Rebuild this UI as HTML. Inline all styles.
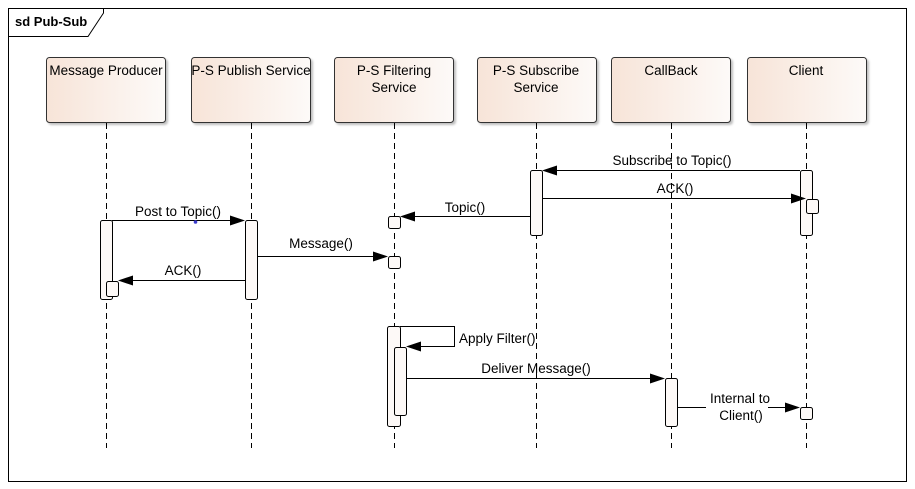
<!DOCTYPE html>
<html><head><meta charset="utf-8"><style>
html,body{margin:0;padding:0;background:#fff;}
svg{display:block;}
text{font-family:"Liberation Sans",sans-serif;font-size:13.5px;fill:#000;}
</style></head><body>
<svg width="915" height="489" viewBox="0 0 915 489" xmlns="http://www.w3.org/2000/svg">
<defs>
<linearGradient id="g" x1="0" x2="1" y1="0" y2="0">
<stop offset="0" stop-color="#f7e4d8"/><stop offset="1" stop-color="#fdfaf8"/>
</linearGradient>
<filter id="sh" x="-10%" y="-10%" width="130%" height="130%"><feDropShadow dx="2" dy="2" stdDeviation="1" flood-color="#000" flood-opacity="0.25"/></filter>
</defs>
<rect x="8.5" y="8.5" width="898" height="473" fill="#fff" stroke="#000" stroke-width="1"/>
<path d="M8.5 36.5 H88 L103.5 13 V8.5" fill="none" stroke="#000"/>
<text x="15" y="26" style="font-weight:bold;font-size:13px">sd Pub-Sub</text>

<g stroke="#000" stroke-dasharray="6,4" stroke-width="1">
<line x1="106.5" y1="123" x2="106.5" y2="448"/>
<line x1="251.5" y1="123" x2="251.5" y2="448"/>
<line x1="394.5" y1="123" x2="394.5" y2="448"/>
<line x1="536.5" y1="123" x2="536.5" y2="448"/>
<line x1="671.5" y1="123" x2="671.5" y2="448"/>
<line x1="806.5" y1="123" x2="806.5" y2="448"/>
</g>

<g fill="url(#g)" stroke="#333" filter="url(#sh)">
<rect x="46.5" y="57.5" width="119" height="65" rx="3"/>
<rect x="191.5" y="57.5" width="119" height="65" rx="3"/>
<rect x="334.5" y="57.5" width="119" height="65" rx="3"/>
<rect x="477.5" y="57.5" width="119" height="65" rx="3"/>
<rect x="611.5" y="57.5" width="119" height="65" rx="3"/>
<rect x="747.5" y="57.5" width="119" height="65" rx="3"/>
</g>
<g text-anchor="middle">
<text x="106" y="75">Message Producer</text>
<text x="251" y="75">P-S Publish Service</text>
<text x="394" y="75">P-S Filtering</text>
<text x="394" y="92">Service</text>
<text x="536" y="75">P-S Subscribe</text>
<text x="536" y="92">Service</text>
<text x="671" y="75">CallBack</text>
<text x="806" y="75">Client</text>
</g>

<g fill="#fdf9f7" stroke="#000">
<rect x="100.5" y="220.5" width="12" height="79" rx="2"/>
<rect x="106.5" y="281.5" width="12" height="15" rx="2"/>
<rect x="245.5" y="220.5" width="12" height="79" rx="2"/>
<rect x="388.5" y="216.5" width="12" height="12" rx="2"/>
<rect x="388.5" y="256.5" width="12" height="12" rx="2"/>
<rect x="387.5" y="326.5" width="13" height="100" rx="2"/>
<rect x="394.5" y="347.5" width="12" height="68" rx="2"/>
<rect x="530.5" y="170.5" width="12" height="65" rx="2"/>
<rect x="800.5" y="170.5" width="12" height="65" rx="2"/>
<rect x="806.5" y="199.5" width="12" height="14" rx="2"/>
<rect x="665.5" y="378.5" width="12" height="48" rx="2"/>
<rect x="800.5" y="407.5" width="12" height="12" rx="2"/>
</g>

<g stroke="#000" fill="none">
<line x1="800" y1="170.5" x2="556" y2="170.5"/>
<line x1="542" y1="198.5" x2="792" y2="198.5"/>
<line x1="530" y1="216.5" x2="414" y2="216.5"/>
<line x1="112" y1="220.5" x2="231" y2="220.5"/>
<line x1="257" y1="256.5" x2="374" y2="256.5"/>
<line x1="245" y1="280.5" x2="132" y2="280.5"/>
<path d="M400 326.5 H454.5 V346.5 H420"/>
<line x1="406" y1="378.5" x2="651" y2="378.5"/>
<line x1="677" y1="407.5" x2="706" y2="407.5"/>
<line x1="768" y1="407.5" x2="786" y2="407.5"/>
</g>
<g fill="#000">
<polygon points="542,170.5 557,165.5 557,175.5"/>
<polygon points="806,198.5 791,193.5 791,203.5"/>
<polygon points="400,216.5 415,211.5 415,221.5"/>
<polygon points="245,220.5 230,215.5 230,225.5"/>
<polygon points="388,256.5 373,251.5 373,261.5"/>
<polygon points="118,280.5 133,275.5 133,285.5"/>
<polygon points="406,346.5 421,341.5 421,351.5"/>
<polygon points="665,378.5 650,373.5 650,383.5"/>
<polygon points="800,407.5 785,402.5 785,412.5"/>
</g>
<circle cx="195.5" cy="222" r="1.8" fill="#3a3acc"/>

<g text-anchor="middle">
<text x="672" y="165">Subscribe to Topic()</text>
<text x="675" y="193">ACK()</text>
<text x="465" y="212">Topic()</text>
<text x="178" y="216">Post to Topic()</text>
<text x="321" y="248">Message()</text>
<text x="183" y="275">ACK()</text>
<text x="536" y="373">Deliver Message()</text>
<text x="740" y="403">Internal to</text>
<text x="741" y="420">Client()</text>
</g>
<text x="459" y="343">Apply Filter()</text>
</svg>
</body></html>
